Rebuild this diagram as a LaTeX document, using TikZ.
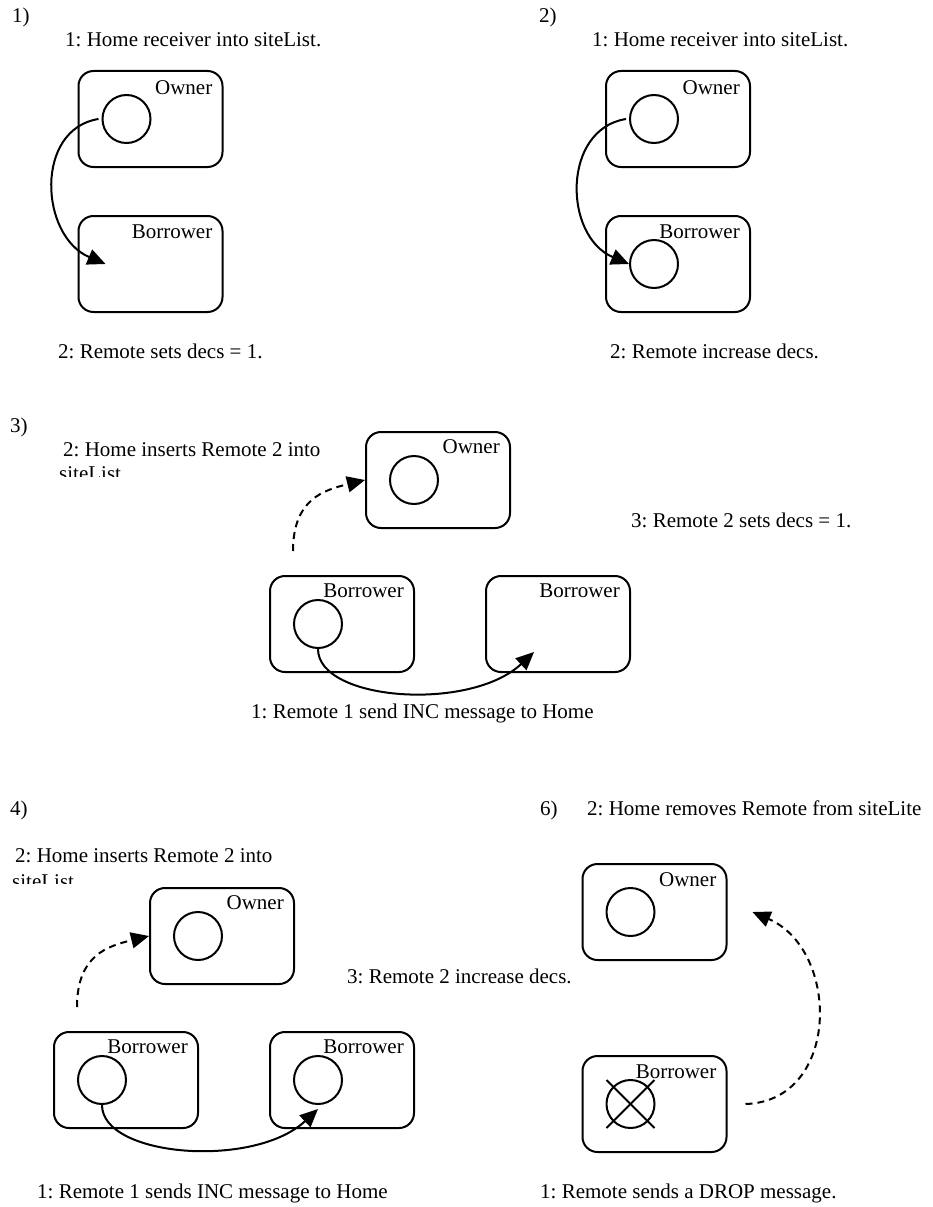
\documentclass[tikz,border=0pt]{standalone}
\usepackage{fontspec}
\setmainfont{Liberation Serif}
\usetikzlibrary{arrows.meta}
\frenchspacing
\begin{document}
\begin{tikzpicture}[x=1pt,y=-1pt,
  lbl/.style={font=\fontsize{21}{24}\selectfont, inner sep=0pt, anchor=base west},
  tag/.style={font=\fontsize{21}{24}\selectfont, inner sep=0pt, anchor=base east},
  site/.style={draw, line width=2pt, rounded corners=15pt, minimum width=144pt,
               minimum height=96pt, inner sep=0pt},
  obj/.style={draw, circle, line width=2pt, minimum size=48pt, inner sep=0pt},
  msg/.style={line width=2pt, -{Triangle[length=18pt,width=16pt]}},
  ctl/.style={msg, dash pattern=on 7pt off 5pt}]
\useasboundingbox (0,0) rectangle (932,1207);

% ---------- 1) ----------
\node[lbl] (n1) at (12,23) {1)};
\node[lbl] (t1a) at (65,47) {1: Home receiver into siteList.};
\node[site] (own1) at (150.5,119) {};
\node[tag] (own1l) at ([xshift=-11pt,yshift=-24pt]own1.north east) {Owner};
\node[obj] (h1) at ([xshift=-24pt]own1.center) {};
\node[site] (bor1) at (150.5,264) {};
\node[tag] (bor1l) at ([xshift=-11pt,yshift=-23pt]bor1.north east) {Borrower};
\coordinate (in1) at ([xshift=-45pt]bor1.center);
\draw[msg] ([xshift=-3pt]h1.west) .. controls +(-64,10) and +(-66,-28) .. (in1);
\node[lbl] (t1b) at (58,358) {2: Remote sets decs = 1.};

% ---------- 2) ----------
\node[lbl] (n2) at (539,23) {2)};
\node[lbl] (t2a) at (592,47) {1: Home receiver into siteList.};
\node[site] (own2) at (678,119) {};
\node[tag] (own2l) at ([xshift=-11pt,yshift=-24pt]own2.north east) {Owner};
\node[obj] (h2) at ([xshift=-24pt]own2.center) {};
\node[site] (bor2) at (678,264) {};
\node[tag] (bor2l) at ([xshift=-11pt,yshift=-23pt]bor2.north east) {Borrower};
\node[obj] (r2) at ([xshift=-24pt]bor2.center) {};
\draw[msg] ([xshift=-3pt]h2.west) .. controls +(-64,10) and +(-66,-28) .. (r2.west);
\node[lbl] (t2b) at (610,358) {2: Remote increase decs.};

% ---------- 3) ----------
\node[lbl] (n3) at (10,432) {3)};
\node[lbl] (t3a) at (63,456) {2: Home inserts Remote 2 into};
\begin{scope}
  \clip (0,440) rectangle (400,476);
  \node[lbl] (t3b) at (59,480) {siteList};
\end{scope}
\node[site] (own3) at (438,480) {};
\node[tag] (own3l) at ([xshift=-11pt,yshift=-22pt]own3.north east) {Owner};
\node[obj] (h3) at ([xshift=-24pt]own3.center) {};
\node[site] (bor3a) at (342,624) {};
\node[tag] (bor3al) at ([xshift=-11pt,yshift=-22pt]bor3a.north east) {Borrower};
\node[obj] (r3a) at ([xshift=-24pt]bor3a.center) {};
\node[site] (bor3b) at (558,624) {};
\node[tag] (bor3bl) at ([xshift=-11pt,yshift=-22pt]bor3b.north east) {Borrower};
\coordinate (in3) at ([xshift=-24pt,yshift=-28pt]bor3b.center);
\coordinate (up3) at ([xshift=24pt,yshift=24pt]bor3a.north west);
\draw[msg] (r3a.south) .. controls +(0,52) and +(-64,60) .. (in3);
\draw[ctl] (up3) .. controls +(0,-52) and +(-41,10) .. (own3.west);
\node[lbl] (t3c) at (631,527) {3: Remote 2 sets decs = 1.};
\node[lbl] (t3d) at (251,718) {1: Remote 1 send INC message to Home};

% ---------- 4) ----------
\node[lbl] (n4) at (10,815) {4)};
\node[lbl] (t4a) at (15,862) {2: Home inserts Remote 2 into};
\begin{scope}
  \clip (0,845) rectangle (400,883);
  \node[lbl] (t4b) at (12,888) {siteList};
\end{scope}
\node[site] (own4) at (222,936) {};
\node[tag] (own4l) at ([xshift=-11pt,yshift=-22pt]own4.north east) {Owner};
\node[obj] (h4) at ([xshift=-24pt]own4.center) {};
\node[site] (bor4a) at (126,1080) {};
\node[tag] (bor4al) at ([xshift=-11pt,yshift=-22pt]bor4a.north east) {Borrower};
\node[obj] (r4a) at ([xshift=-24pt]bor4a.center) {};
\node[site] (bor4b) at (342,1080) {};
\node[tag] (bor4bl) at ([xshift=-11pt,yshift=-22pt]bor4b.north east) {Borrower};
\node[obj] (r4b) at ([xshift=-24pt]bor4b.center) {};
\coordinate (in4) at ([yshift=-4pt]r4b.south);
\coordinate (up4) at ([xshift=24pt,yshift=24pt]bor4a.north west);
\draw[msg] (r4a.south) .. controls +(0,52) and +(-64,60) .. (in4);
\draw[ctl] (up4) .. controls +(0,-52) and +(-41,10) .. (own4.west);
\node[lbl] (t4c) at (347,983) {3: Remote 2 increase decs.};
\node[lbl] (t4d) at (37,1198) {1: Remote 1 sends INC message to Home};

% ---------- 6) ----------
\node[lbl] (n6) at (540,815) {6)};
\node[lbl] (t6a) at (587,815) {2: Home removes Remote from siteLite};
\node[site] (own6) at (654.5,912) {};
\node[tag] (own6l) at ([xshift=-11pt,yshift=-23pt]own6.north east) {Owner};
\node[obj] (h6) at ([xshift=-24pt]own6.center) {};
\node[site] (bor6) at (654.5,1104) {};
\node[tag] (bor6l) at ([xshift=-11pt,yshift=-23pt]bor6.north east) {Borrower};
\node[obj] (r6) at ([xshift=-24pt]bor6.center) {};
\draw[line width=2pt] ([xshift=-24pt,yshift=24pt]r6.center) -- ([xshift=24pt,yshift=-24pt]r6.center);
\draw[line width=2pt] ([xshift=24pt,yshift=24pt]r6.center) -- ([xshift=-24pt,yshift=-24pt]r6.center);
\coordinate (out6) at ([xshift=18pt]bor6.east);
\coordinate (in6) at ([xshift=25pt]own6.east);
\draw[ctl] (out6) .. controls +(95,-3) and +(88,38) .. (in6);
\node[lbl] (t6b) at (540,1198) {1: Remote sends a DROP message.};
\end{tikzpicture}
\end{document}
